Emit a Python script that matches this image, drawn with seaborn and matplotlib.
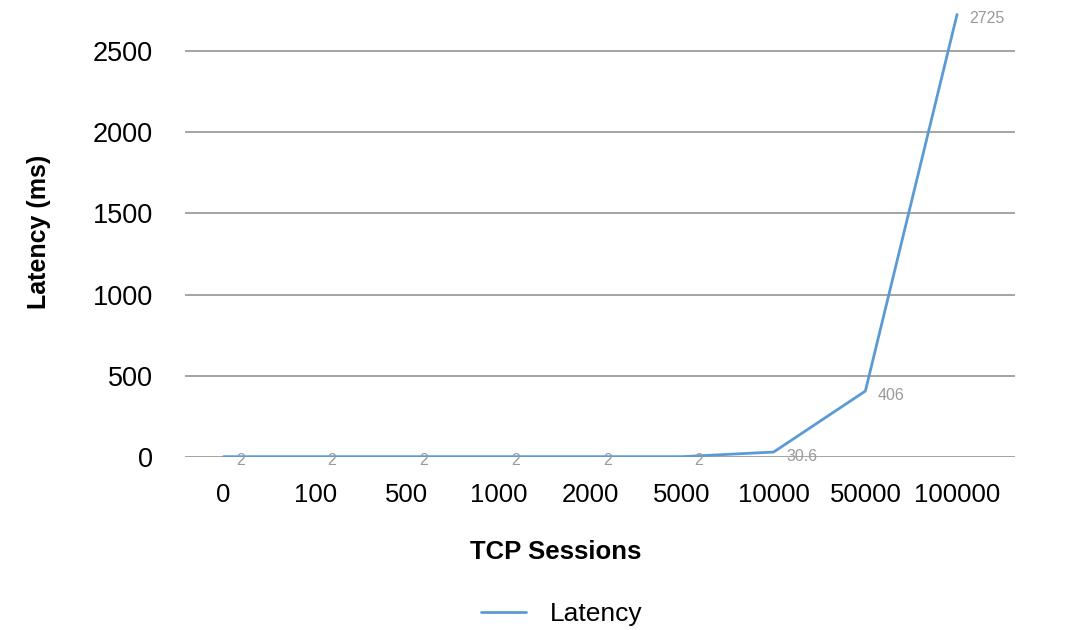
import pandas as pd
import numpy as np
import matplotlib
matplotlib.use('Agg')
import matplotlib.pyplot as plt
import seaborn as sns

# data
sessions = ['0', '100', '500', '1000', '2000', '5000', '10000', '50000', '100000']
latency = [2, 2, 2, 2, 2, 2, 30.6, 406, 2725]
point_labels = ['2', '2', '2', '2', '2', '2', '30.6', '406', '2725']
y_ticks = [0, 500, 1000, 1500, 2000, 2500]

sns.set_style('white', {'text.color': 'black', 'axes.labelcolor': 'black',
                        'xtick.color': 'black', 'ytick.color': 'black'})
plt.rcParams['font.family'] = ['Liberation Sans', 'DejaVu Sans']

df = pd.DataFrame({'pos': np.arange(len(sessions)), 'Latency': latency})

fig = plt.figure(figsize=(10.66, 6.3), dpi=100)
ax = fig.add_axes([0.1735, 1 - 457 / 630, 0.952 - 0.1735, (457 - 6) / 630])

sns.lineplot(data=df, x='pos', y='Latency', ax=ax, color='#5B9BD5',
             linewidth=2.0, label='Latency', legend=False)

for i, (v, lab) in enumerate(zip(latency, point_labels)):
    ax.annotate(lab, (i, v), xytext=(9, -3), textcoords='offset points',
                fontsize=11.5, color='#9A9A9A', va='center', ha='left')

ax.set_xlim(-0.42, 8.63)
ax.set_ylim(0, 2777)
ax.set_yticks(y_ticks)
ax.set_xticks(df['pos'])
ax.set_xticklabels(sessions)
ax.grid(axis='y', color='#8C8C8C', linewidth=1.1)
ax.set_axisbelow(True)
for s in ax.spines.values():
    s.set_visible(False)
ax.tick_params(axis='y', length=0, pad=23, labelsize=19.5)
ax.tick_params(axis='x', length=0, pad=19, labelsize=18.5)

ax.set_xlabel('TCP Sessions', fontsize=18.5, fontweight='bold')
ax.xaxis.set_label_coords((556 - 185) / (1015 - 185), -0.183)
ax.set_ylabel('Latency (ms)', fontsize=18, fontweight='bold', labelpad=30)

handles, labels = ax.get_legend_handles_labels()
fig.legend(handles, labels, loc='center', bbox_to_anchor=(562 / 1066, 1 - 614 / 630),
           frameon=False, fontsize=19, handlelength=1.7, handletextpad=0.9)

plt.savefig('out.png', dpi=100)
plt.close()
